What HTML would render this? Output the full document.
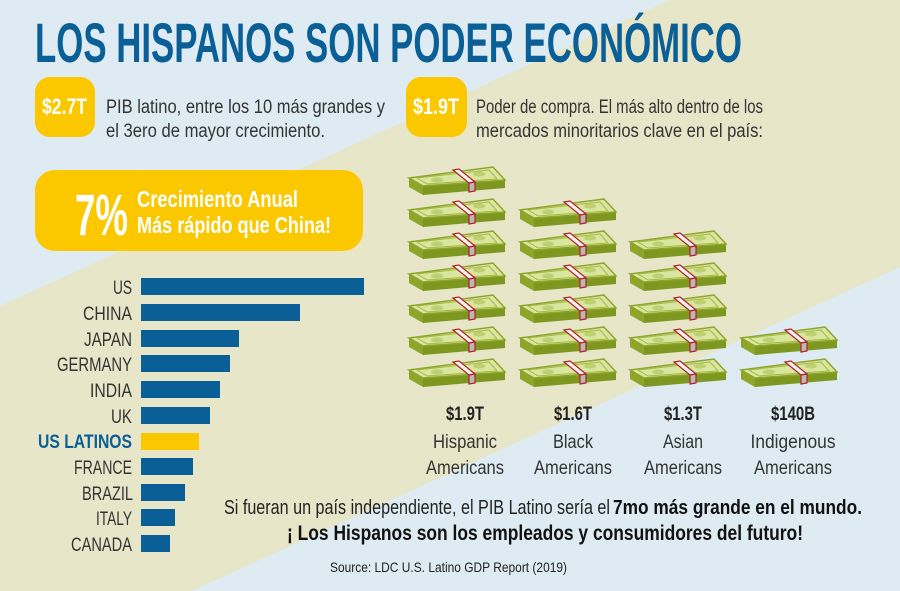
<!DOCTYPE html>
<html><head><meta charset="utf-8"><style>
html,body{margin:0;padding:0;width:900px;height:591px;overflow:hidden;background:#deebf3}
svg{display:block}
text{font-family:"Liberation Sans",sans-serif}
</style></head><body>
<svg width="900" height="591" viewBox="0 0 900 591" xmlns="http://www.w3.org/2000/svg">
<defs>
<g id="m">
<polygon points="0,13 14,21 14,30 0,22" fill="#8fa52a"/>
<polygon points="14,21 96,15 96,23 14,30" fill="#7d9720"/>
<polygon points="0,13 84,2 96,15 14,21" fill="#d9e6a0" stroke="#8fa52a" stroke-width="1.5"/>
<polygon points="8,13 80,5 88,14 18,19" fill="none" stroke="#a6b844" stroke-width="1"/>
<ellipse cx="28" cy="15" rx="6" ry="2.5" fill="#bdd072"/>
<ellipse cx="70" cy="9" rx="6" ry="2.5" fill="#bdd072"/>
<polygon points="44,5 50,4 66,17 60,18" fill="#f2f2f2" stroke="#b3202a" stroke-width="1.2"/>
<polygon points="60,18 66,17 66,26 60,27" fill="#b9b9b9" stroke="#b3202a" stroke-width="1.2"/>
</g>
</defs>
<rect width="900" height="591" fill="#deebf3"/>
<polygon points="0,306 670,0 900,0 900,267 192,591 0,591" fill="#e8e6c9"/>

<text x="35" y="62" font-size="56" font-weight="bold" fill="#0a5f96" textLength="707" lengthAdjust="spacingAndGlyphs">LOS HISPANOS SON PODER ECONÓMICO</text>

<rect x="35" y="77" width="60" height="60" rx="15" fill="#fbc800"/>
<text x="42" y="114" font-size="22" font-weight="bold" fill="#fff" textLength="45" lengthAdjust="spacingAndGlyphs">$2.7T</text>
<text x="106" y="113" font-size="19" fill="#333" textLength="279" lengthAdjust="spacingAndGlyphs">PIB latino, entre los 10 más grandes y</text>
<text x="106" y="137" font-size="19" fill="#333" textLength="219" lengthAdjust="spacingAndGlyphs">el 3ero de mayor crecimiento.</text>

<rect x="406" y="77" width="61" height="60" rx="15" fill="#fbc800"/>
<text x="413" y="114" font-size="22" font-weight="bold" fill="#fff" textLength="46" lengthAdjust="spacingAndGlyphs">$1.9T</text>
<text x="476" y="113" font-size="19" fill="#333" textLength="287" lengthAdjust="spacingAndGlyphs">Poder de compra. El más alto dentro de los</text>
<text x="476" y="137" font-size="19" fill="#333" textLength="287" lengthAdjust="spacingAndGlyphs">mercados minoritarios clave en el país:</text>

<rect x="35" y="170" width="328" height="81" rx="20" fill="#fbc800"/>
<text x="75" y="235" font-size="58" font-weight="bold" fill="#fff" textLength="53" lengthAdjust="spacingAndGlyphs">7%</text>
<text x="137" y="207" font-size="23" font-weight="bold" fill="#fff" textLength="161" lengthAdjust="spacingAndGlyphs">Crecimiento Anual</text>
<text x="137" y="233" font-size="23" font-weight="bold" fill="#fff" textLength="194" lengthAdjust="spacingAndGlyphs">Más rápido que China!</text>

<g fill="#0a5f96">
<rect x="141" y="278" width="223" height="17"/>
<rect x="141" y="304" width="159" height="17"/>
<rect x="141" y="330" width="98" height="17"/>
<rect x="141" y="355" width="89" height="17"/>
<rect x="141" y="381" width="79" height="17"/>
<rect x="141" y="407" width="69" height="17"/>
<rect x="141" y="433" width="58" height="17" fill="#fbc800"/>
<rect x="141" y="458" width="52" height="17"/>
<rect x="141" y="484" width="44" height="17"/>
<rect x="141" y="509" width="34" height="17"/>
<rect x="141" y="535" width="29" height="17"/>
</g>
<g font-size="19" fill="#333" text-anchor="end">
<text x="132" y="294" textLength="19" lengthAdjust="spacingAndGlyphs">US</text>
<text x="132" y="320" textLength="49" lengthAdjust="spacingAndGlyphs">CHINA</text>
<text x="132" y="346" textLength="48" lengthAdjust="spacingAndGlyphs">JAPAN</text>
<text x="132" y="371" textLength="75" lengthAdjust="spacingAndGlyphs">GERMANY</text>
<text x="132" y="397" textLength="42" lengthAdjust="spacingAndGlyphs">INDIA</text>
<text x="132" y="423" textLength="21" lengthAdjust="spacingAndGlyphs">UK</text>
<text x="132" y="448" font-weight="bold" fill="#0a5f96" textLength="94" lengthAdjust="spacingAndGlyphs">US LATINOS</text>
<text x="132" y="474" textLength="58" lengthAdjust="spacingAndGlyphs">FRANCE</text>
<text x="133" y="500" textLength="51" lengthAdjust="spacingAndGlyphs">BRAZIL</text>
<text x="132" y="525" textLength="36" lengthAdjust="spacingAndGlyphs">ITALY</text>
<text x="132" y="551" textLength="61" lengthAdjust="spacingAndGlyphs">CANADA</text>
</g>

<g>
<use href="#m" x="409" y="165"/><use href="#m" x="409" y="197"/><use href="#m" x="409" y="229"/><use href="#m" x="409" y="261"/><use href="#m" x="409" y="293"/><use href="#m" x="409" y="325"/><use href="#m" x="409" y="357"/>
<use href="#m" x="520" y="197"/><use href="#m" x="520" y="229"/><use href="#m" x="520" y="261"/><use href="#m" x="520" y="293"/><use href="#m" x="520" y="325"/><use href="#m" x="520" y="357"/>
<use href="#m" x="630" y="229"/><use href="#m" x="630" y="261"/><use href="#m" x="630" y="293"/><use href="#m" x="630" y="325"/><use href="#m" x="630" y="357"/>
<use href="#m" x="741" y="325"/><use href="#m" x="741" y="357"/>
</g>

<g text-anchor="middle" fill="#333">
<text x="465" y="420" font-size="19" font-weight="bold" fill="#222" textLength="38" lengthAdjust="spacingAndGlyphs">$1.9T</text>
<text x="573" y="420" font-size="19" font-weight="bold" fill="#222" textLength="38" lengthAdjust="spacingAndGlyphs">$1.6T</text>
<text x="683" y="420" font-size="19" font-weight="bold" fill="#222" textLength="38" lengthAdjust="spacingAndGlyphs">$1.3T</text>
<text x="793" y="420" font-size="19" font-weight="bold" fill="#222" textLength="44" lengthAdjust="spacingAndGlyphs">$140B</text>
<text x="465" y="448" font-size="19" textLength="64" lengthAdjust="spacingAndGlyphs">Hispanic</text>
<text x="573" y="448" font-size="19" textLength="40" lengthAdjust="spacingAndGlyphs">Black</text>
<text x="683" y="448" font-size="19" textLength="40" lengthAdjust="spacingAndGlyphs">Asian</text>
<text x="793" y="448" font-size="19" textLength="85" lengthAdjust="spacingAndGlyphs">Indigenous</text>
<text x="465" y="474" font-size="19" textLength="78" lengthAdjust="spacingAndGlyphs">Americans</text>
<text x="573" y="474" font-size="19" textLength="78" lengthAdjust="spacingAndGlyphs">Americans</text>
<text x="683" y="474" font-size="19" textLength="78" lengthAdjust="spacingAndGlyphs">Americans</text>
<text x="793" y="474" font-size="19" textLength="78" lengthAdjust="spacingAndGlyphs">Americans</text>
</g>

<text x="224" y="514" font-size="20" fill="#222" textLength="386" lengthAdjust="spacingAndGlyphs">Si fueran un país independiente, el PIB Latino sería el</text>
<text x="613" y="514" font-size="20" font-weight="bold" fill="#111" textLength="249" lengthAdjust="spacingAndGlyphs">7mo más grande en el mundo.</text>
<text x="287" y="540" font-size="21" font-weight="bold" fill="#111" textLength="516" lengthAdjust="spacingAndGlyphs">¡ Los Hispanos son los empleados y consumidores del futuro!</text>
<text x="330" y="572" font-size="14" fill="#222" textLength="237" lengthAdjust="spacingAndGlyphs">Source: LDC U.S. Latino GDP Report (2019)</text>
</svg>
</body></html>
